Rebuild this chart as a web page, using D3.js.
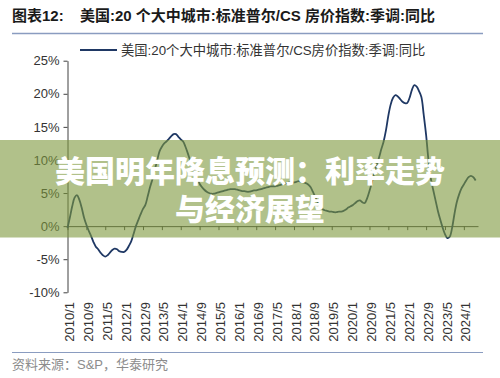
<!DOCTYPE html>
<html><head><meta charset="utf-8">
<script src="https://cdn.jsdelivr.net/npm/d3@7"></script>
<style>
html,body{margin:0;padding:0;background:#fff;}
svg{display:block;}
</style></head>
<body>
<svg id="chart" width="500" height="378"></svg>
<script>
// ---- data ----
const startYear = 2010;
const seriesName = "美国:20个大中城市:标准普尔/CS房价指数:季调:同比";
// monthly YoY %, 2010/1 .. 2024/6
const yoy = [
  -0.3, 1.3, 3.0, 4.3, 4.7, 4.0, 2.8, 1.3, 0.2, -0.7, -1.5, -2.4,   // 2010
  -3.1, -3.5, -4.0, -4.4, -4.6, -4.4, -4.0, -3.6, -3.4, -3.5, -3.8, -3.9, // 2011
  -3.9, -3.6, -3.0, -2.3, -1.2, 0.0, 0.9, 1.8, 2.6, 3.2, 4.5, 5.9,  // 2012
  7.1, 8.5, 9.9, 11.3, 12.0, 12.5, 12.8, 13.2, 13.6, 13.9, 13.9, 13.5, // 2013
  13.1, 12.8, 12.0, 11.0, 9.9, 9.0, 8.2, 7.3, 6.4, 5.9, 5.5, 5.2,   // 2014
  5.0, 4.9, 4.9, 5.0, 5.1, 5.2, 5.3, 5.4, 5.5, 5.6, 5.6, 5.6,       // 2015
  5.5, 5.4, 5.3, 5.3, 5.2, 5.2, 5.3, 5.4, 5.4, 5.5, 5.6, 5.7,       // 2016
  5.8, 5.9, 6.0, 6.0, 6.0, 6.1, 6.2, 6.3, 6.4, 6.5, 6.6, 6.6,       // 2017
  6.6, 6.7, 6.8, 6.7, 6.6, 6.5, 6.3, 5.9, 5.2, 4.4, 3.6, 3.0,       // 2018
  2.6, 2.4, 2.3, 2.2, 2.2, 2.1, 2.1, 2.2, 2.2, 2.3, 2.5, 2.8,       // 2019
  3.0, 3.2, 3.5, 3.8, 3.9, 3.6, 3.5, 4.2, 5.3, 6.6, 8.0, 9.2,       // 2020
  10.3, 11.6, 12.8, 14.5, 16.7, 18.4, 19.4, 19.8, 19.6, 19.2, 18.8, 18.6, // 2021
  18.6, 19.4, 20.6, 21.3, 21.1, 20.4, 19.5, 16.8, 13.8, 10.0, 7.2, 5.5,   // 2022
  3.9, 2.3, 1.0, -0.2, -1.2, -1.8, -1.6, -0.3, 1.8, 3.6, 4.8, 5.7,  // 2023
  6.3, 6.9, 7.4, 7.6, 7.4, 6.9                                       // 2024
];
const months = yoy.map((v, i) => `${startYear + Math.floor(i / 12)}/${i % 12 + 1}`);
const tickLabels = ["2010/1","2010/9","2011/5","2012/1","2012/9","2013/5","2014/1","2014/9",
  "2015/5","2016/1","2016/9","2017/5","2018/1","2018/9","2019/5","2020/1","2020/9",
  "2021/5","2022/1","2022/9","2023/5","2024/1"];
const yTicks = [-10, -5, 0, 5, 10, 15, 20, 25];
const titleText = "图表12:";
const titleRest = "美国:20 个大中城市:标准普尔/CS 房价指数:季调:同比";
const sourceText = "资料来源：S&P，华泰研究";
const bannerLines = ["美国明年降息预测：利率走势", "与经济展望"];

// ---- drawing ----
const svg = d3.select("#chart");
const latin = "'Liberation Sans', Arial, 'Noto Sans CJK SC', sans-serif";
const x = d3.scaleLinear().domain([0, 174]).range([67.5, 478]);
const y = d3.scaleLinear().domain([-10, 25]).range([292.3, 60.7]);

svg.append("rect").attr("width", 500).attr("height", 378).attr("fill", "#fff");

// title
const t = svg.append("text").attr("x", 12).attr("y", 20.5)
  .attr("font-family", latin).attr("font-weight", "bold").attr("font-size", 15).attr("fill", "#1a1a1a");
t.append("tspan").text(titleText);
t.append("tspan").attr("x", 80).text(titleRest);
svg.append("line").attr("x1", 12).attr("x2", 483).attr("y1", 33.5).attr("y2", 33.5)
  .attr("stroke", "#8a9cc0").attr("stroke-width", 1.5);

// legend
svg.append("line").attr("x1", 80).attr("x2", 117).attr("y1", 50).attr("y2", 50)
  .attr("stroke", "#1f3864").attr("stroke-width", 2);
svg.append("text").attr("x", 121).attr("y", 54.5).text(seriesName)
  .attr("font-family", latin).attr("font-size", 13.3).attr("fill", "#333");

// y axis
const yAxis = svg.append("g").attr("transform", `translate(${x(0)},0)`)
  .call(d3.axisLeft(y).tickValues(yTicks).tickFormat(d => d + "%").tickSize(4).tickSizeOuter(0));
yAxis.select(".domain").attr("stroke", "#404040");
yAxis.selectAll(".tick line").attr("stroke", "#404040");
yAxis.selectAll(".tick text").attr("font-family", latin).attr("font-size", 13).attr("fill", "#333").attr("x", -8);

// x axis at 0%
const tickIdx = tickLabels.map(l => months.indexOf(l));
const xAxis = svg.append("g").attr("transform", `translate(0,${y(0)})`)
  .call(d3.axisBottom(x).tickValues(tickIdx).tickFormat("").tickSize(4).tickSizeOuter(0));
xAxis.select(".domain").attr("stroke", "#404040");
xAxis.selectAll(".tick line").attr("stroke", "#404040");

// x labels at bottom, rotated
svg.append("g").selectAll("text").data(tickLabels).join("text")
  .attr("transform", d => `translate(${x(months.indexOf(d)) + 2},302) rotate(-90)`)
  .attr("text-anchor", "end").attr("dy", "0.35em")
  .attr("font-family", latin).attr("font-size", 13).attr("fill", "#333")
  .text(d => d);

// line
const line = d3.line().x((d, i) => x(i)).y(d => y(d)).curve(d3.curveCatmullRom.alpha(0.5));
svg.append("path").datum(yoy).attr("d", line).attr("fill", "none")
  .attr("stroke", "#1f3864").attr("stroke-width", 1.8);

// bottom rule + source
svg.append("line").attr("x1", 12).attr("x2", 483).attr("y1", 352.5).attr("y2", 352.5)
  .attr("stroke", "#8a9cc0").attr("stroke-width", 1.2);
svg.append("text").attr("x", 12).attr("y", 368.5).text(sourceText)
  .attr("font-family", latin).attr("font-size", 13).attr("fill", "#8c8c8c");

// banner overlay
svg.append("rect").attr("x", 0).attr("y", 140).attr("width", 500).attr("height", 97.5)
  .attr("fill", "rgb(125,152,60)").attr("fill-opacity", 0.6);
svg.append("g").selectAll("text").data(bannerLines).join("text")
  .attr("x", 250).attr("y", (d, i) => 182 + i * 38)
  .attr("text-anchor", "middle")
  .attr("font-family", "'Noto Sans CJK SC', sans-serif").attr("font-weight", 900)
  .attr("font-size", 30).attr("fill", "#fff")
  .text(d => d);
</script>
</body></html>
